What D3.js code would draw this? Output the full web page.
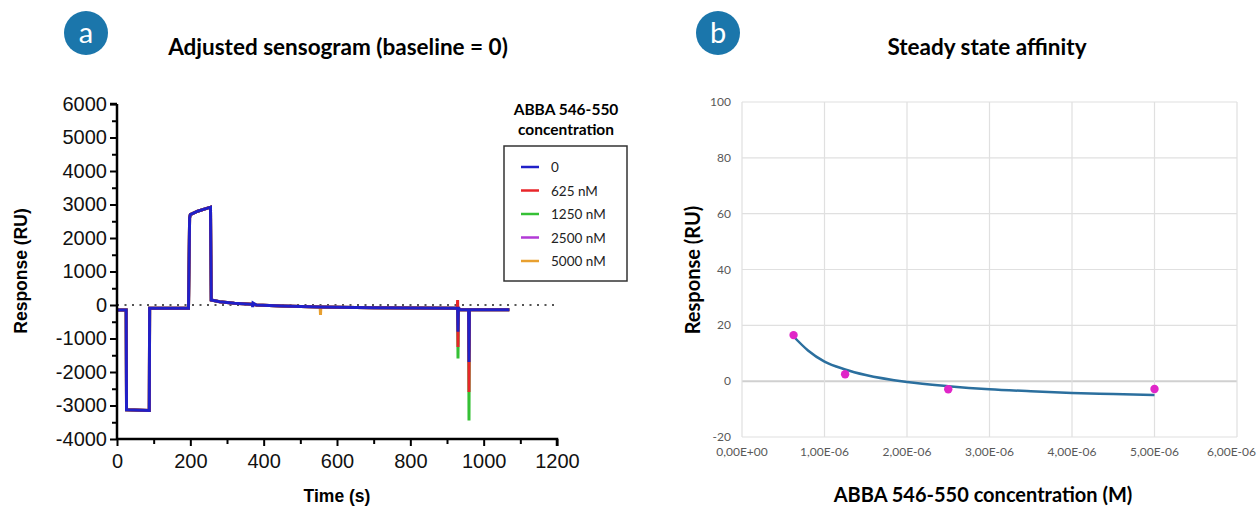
<!DOCTYPE html>
<html><head><meta charset="utf-8">
<script src="https://cdn.jsdelivr.net/npm/d3@7"></script>
<style>body{margin:0;background:#fff}svg{display:block}</style>
</head><body>
<svg id="c" width="1258" height="506"></svg>
<script>
// ---------- Panel a data ----------
const times = [0,25,26,88,89,195,198,200,220,255,257,280,320,369,370,371,380,450,554,555,556,700,928,929,930,931,932,935,958,959,960,961,962,1070];
const seriesNames = ["0","625 nM","1250 nM","2500 nM","5000 nM"];
const seriesColors = ["#2020c8","#e8262a","#35c035","#b23ad6","#e8a030"];
const vals0    = [-150,-150,-3130,-3150,-100,-100,2600,2700,2800,2920,150,100,50,20,-60,60,0,-30,-60,-60,-60,-80,-100,-100,-800,-100,-100,-140,-140,-140,-1700,-140,-140,-140];
const vals625  = [-150,-150,-3130,-3150,-100,-100,2600,2700,2800,2920,150,100,50,20,20,20,0,-30,-60,-60,-60,-80,-100,150,-1250,-100,-100,-140,-140,-140,-2600,-140,-140,-140];
const vals1250 = [-150,-150,-3130,-3150,-100,-100,2600,2700,2800,2920,150,100,50,20,20,20,0,-30,-60,-60,-60,-80,-100,-100,-1600,-100,-100,-140,-140,-140,-3450,-140,-140,-140];
const vals2500 = [-150,-150,-3130,-3150,-100,-100,2600,2700,2800,2920,150,100,50,20,20,20,0,-30,-60,-60,-60,-80,-100,-100,-600,-100,-100,-140,-140,-140,-1400,-140,-140,-140];
const vals5000 = [-150,-150,-3130,-3150,-100,-100,2600,2700,2800,2920,150,100,50,20,20,20,0,-30,-60,-300,-60,-80,-100,-100,-400,-100,-100,-140,-140,-140,-1200,-140,-140,-140];
const seriesValues = [vals0, vals625, vals1250, vals2500, vals5000];
const aYTicks = [-4000,-3000,-2000,-1000,0,1000,2000,3000,4000,5000,6000];
const aXTicks = [0,200,400,600,800,1000,1200];

// ---------- Panel b data ----------
const concM = [6.25e-7, 1.25e-6, 2.5e-6, 5e-6];
const respRU = [16.5, 2.5, -2.9, -2.8];
const fitX = [6.25e-7, 8e-7, 1e-6, 1.25e-6, 1.5e-6, 2e-6, 2.5e-6, 3e-6, 3.5e-6, 4e-6, 4.5e-6, 5e-6];
const fitY = [16, 11, 7, 4.2, 2.2, -0.3, -1.8, -2.9, -3.6, -4.2, -4.6, -5];
const bYTicks = [-20,0,20,40,60,80,100];
const bXTicks = [0,1e-6,2e-6,3e-6,4e-6,5e-6,6e-6];
const bXLabels = ["0,00E+00","1,00E-06","2,00E-06","3,00E-06","4,00E-06","5,00E-06","6,00E-06"];

const svg = d3.select("#c");
const badgeColor = "#1b76ab";
const titleFont = "Lato, 'Open Sans', sans-serif";
const arial = "'Liberation Sans', Arial, sans-serif";

function badge(cx, cy, letter){
  svg.append("circle").attr("cx",cx).attr("cy",cy).attr("r",22).attr("fill",badgeColor);
  svg.append("text").attr("x",cx).attr("y",cy+10).attr("text-anchor","middle")
    .attr("font-family",titleFont).attr("font-size",29).attr("fill","#fff").text(letter);
}
badge(86,33,"a");
badge(718,33,"b");

// ================= Panel a =================
const ax = d3.scaleLinear().domain([0,1200]).range([117,557]);
const ay = d3.scaleLinear().domain([-4000,6000]).range([439,104]);

svg.append("text").attr("x",338).attr("y",55).attr("text-anchor","middle")
  .attr("font-family",titleFont).attr("font-weight",700).attr("font-size",22.5).text("Adjusted sensogram (baseline = 0)");

// zero dotted line
svg.append("line").attr("x1",ax(0)).attr("x2",ax(1200)).attr("y1",ay(0)).attr("y2",ay(0))
  .attr("stroke","#555").attr("stroke-width",2.2).attr("stroke-dasharray","2,5.5");

const line = d3.line().x((d,i)=>ax(times[i])).y(d=>ay(d)).curve(d3.curveLinear);
const order = [4,3,2,1,0];
order.forEach(k=>{
  svg.append("path").attr("d",line(seriesValues[k])).attr("fill","none")
    .attr("stroke",seriesColors[k]).attr("stroke-width",3).attr("stroke-linejoin","miter");
});

// axes
const fmt = d=>String(d);
const yAxisA = svg.append("g").attr("transform",`translate(${ax(0)},0)`)
  .call(d3.axisLeft(ay).tickValues(aYTicks).tickSize(7).tickPadding(3).tickFormat(fmt));
svg.append("g").attr("transform",`translate(${ax(0)},0)`)
  .call(d3.axisLeft(ay).tickValues(d3.range(-3500,6000,1000)).tickSize(5).tickFormat(""))
  .call(g=>g.select(".domain").remove());
const xAxisA = svg.append("g").attr("transform",`translate(0,${ay(-4000)})`)
  .call(d3.axisBottom(ax).tickValues(aXTicks).tickSize(7).tickPadding(8).tickFormat(fmt));
svg.append("g").attr("transform",`translate(0,${ay(-4000)})`)
  .call(d3.axisBottom(ax).tickValues(d3.range(100,1200,200)).tickSize(5).tickFormat(""))
  .call(g=>g.select(".domain").remove());
svg.selectAll(".tick line").attr("stroke","#000").attr("stroke-width",2);
[yAxisA,xAxisA].forEach(g=>{
  g.select(".domain").attr("stroke","#000").attr("stroke-width",2.5);
  g.selectAll("text").attr("font-family",arial).attr("font-size",20).attr("fill","#111");
});
yAxisA.select(".domain").attr("d",`M0,${ay(6000)}H-7M0,${ay(6000)}V${ay(-4000)}`);
xAxisA.select(".domain").attr("d",`M${ax(0)},0H${ax(1200)}V7`);

svg.append("text").attr("transform",`translate(27,271) rotate(-90)`).attr("text-anchor","middle")
  .attr("font-family",arial).attr("font-weight",700).attr("font-size",17.5).text("Response (RU)");
svg.append("text").attr("x",337).attr("y",502).attr("text-anchor","middle")
  .attr("font-family",arial).attr("font-weight",700).attr("font-size",17.5).text("Time (s)");

// legend
svg.append("text").attr("x",566).attr("y",115).attr("text-anchor","middle")
  .attr("font-family",titleFont).attr("font-weight",700).attr("font-size",15.5).text("ABBA 546-550");
svg.append("text").attr("x",566).attr("y",135).attr("text-anchor","middle")
  .attr("font-family",titleFont).attr("font-weight",700).attr("font-size",15.5).text("concentration");
svg.append("rect").attr("x",504).attr("y",146).attr("width",123).attr("height",135)
  .attr("fill","none").attr("stroke","#333").attr("stroke-width",1.5);
const leg = svg.append("g").selectAll("g").data(seriesNames).join("g")
  .attr("transform",(d,i)=>`translate(0,${167+i*23.5})`);
leg.append("line").attr("x1",521).attr("x2",539).attr("stroke",(d,i)=>seriesColors[i]).attr("stroke-width",2.5);
leg.append("text").attr("x",551).attr("y",5).attr("font-family",titleFont).attr("font-size",13.5).attr("fill","#222").text(d=>d);

// ================= Panel b =================
const bx = d3.scaleLinear().domain([0,6e-6]).range([742,1237]);
const by = d3.scaleLinear().domain([-20,100]).range([437,102]);

svg.append("text").attr("x",987).attr("y",55).attr("text-anchor","middle")
  .attr("font-family",titleFont).attr("font-weight",700).attr("font-size",22.5).text("Steady state affinity");

// grid
svg.append("g").selectAll("line.h").data(bYTicks).join("line")
  .attr("x1",bx(0)).attr("x2",bx(6e-6)).attr("y1",d=>by(d)).attr("y2",d=>by(d))
  .attr("stroke",d=>d===0?"#d0d0d0":"#e0e0e0").attr("stroke-width",d=>d===0?2:1.2);
svg.append("g").selectAll("line.v").data(bXTicks).join("line")
  .attr("y1",by(-20)).attr("y2",by(100)).attr("x1",d=>bx(d)).attr("x2",d=>bx(d))
  .attr("stroke","#e0e0e0").attr("stroke-width",1.2);

svg.append("g").selectAll("text").data(bYTicks).join("text")
  .attr("x",731).attr("y",d=>by(d)+4).attr("text-anchor","end")
  .attr("font-family",titleFont).attr("font-size",12).attr("fill","#595959").text(d=>d);
svg.append("g").selectAll("text").data(bXTicks).join("text")
  .attr("x",(d,i)=>i===bXTicks.length-1?1256:bx(d)).attr("y",456)
  .attr("text-anchor",(d,i)=>i===bXTicks.length-1?"end":"middle")
  .attr("font-family",titleFont).attr("font-size",12).attr("fill","#595959").text((d,i)=>bXLabels[i]);

const fitLine = d3.line().x((d,i)=>bx(fitX[i])).y(d=>by(d)).curve(d3.curveMonotoneX);
svg.append("path").attr("d",fitLine(fitY)).attr("fill","none").attr("stroke","#2b6f9e").attr("stroke-width",2.5);
svg.append("g").selectAll("circle").data(respRU).join("circle")
  .attr("cx",(d,i)=>bx(concM[i])).attr("cy",d=>by(d)).attr("r",4.2).attr("fill","#e026c8");

svg.append("text").attr("transform",`translate(700,270) rotate(-90)`).attr("text-anchor","middle")
  .attr("font-family",titleFont).attr("font-weight",700).attr("font-size",20).text("Response (RU)");
svg.append("text").attr("x",983).attr("y",502).attr("text-anchor","middle")
  .attr("font-family",titleFont).attr("font-weight",700).attr("font-size",20).text("ABBA 546-550 concentration (M)");
</script>
</body></html>
